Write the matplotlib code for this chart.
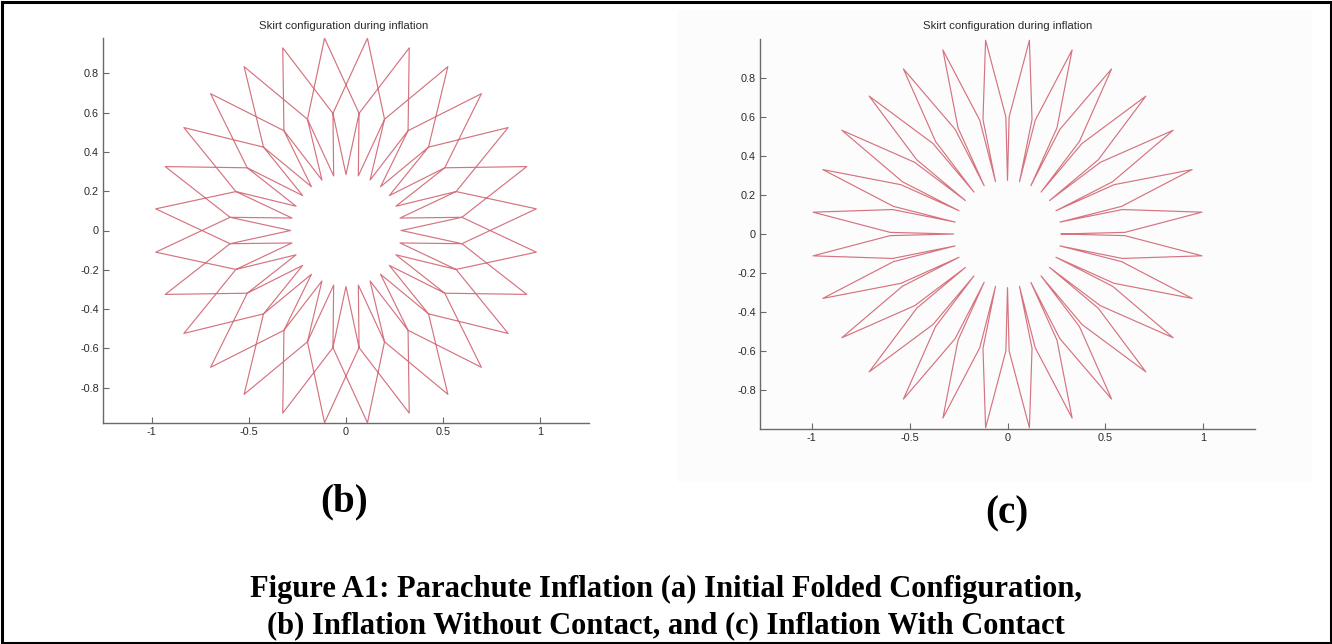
import numpy as np
import matplotlib
matplotlib.use("Agg")
import matplotlib.pyplot as plt
from matplotlib.patches import Rectangle

W, H = 1332, 644

# skirt made of 28 gores; each gore = inner point, mid fold, hem tip, mid fold
n_gores = 28
gore_step = 360.0 / n_gores

# (b) inflation without contact: folds cross over to the neighbouring gore
b_node_r = [0.285, 0.60, 0.985, 0.60]
b_node_dang = [0.0, -6.43, 6.43, 19.29]

# (c) inflation with contact: folds stay next to their own inner point
c_node_r = [0.275, 0.60, 1.0, 0.60]
c_node_dang = [0.0, 0.8, 6.43, 12.06]

xticks = [-1, -0.5, 0, 0.5, 1]
xtick_labels = ["-1", "-0.5", "0", "0.5", "1"]
yticks = [-0.8, -0.6, -0.4, -0.2, 0, 0.2, 0.4, 0.6, 0.8]
ytick_labels = ["-0.8", "-0.6", "-0.4", "-0.2", "0", "0.2", "0.4", "0.6", "0.8"]

title = "Skirt configuration during inflation"
caption_1 = "Figure A1: Parachute Inflation (a) Initial Folded Configuration,"
caption_2 = "(b) Inflation Without Contact, and (c) Inflation With Contact"

line_col = "#d5737f"


def skirt(node_r, node_dang):
    xs, ys = [], []
    for k in range(n_gores):
        for r, d in zip(node_r, node_dang):
            t = np.deg2rad(k * gore_step + d)
            xs.append(r * np.cos(t))
            ys.append(r * np.sin(t))
    xs.append(xs[0])
    ys.append(ys[0])
    return xs, ys


def px_axes(fig, left, top, right, bottom):
    return fig.add_axes([left / W, 1 - bottom / H, (right - left) / W, (bottom - top) / H])


def style(ax, xlim, ylim):
    ax.set_xlim(*xlim)
    ax.set_ylim(*ylim)
    ax.spines["top"].set_visible(False)
    ax.spines["right"].set_visible(False)
    for s in ("left", "bottom"):
        ax.spines[s].set_color("#6a6a6a")
        ax.spines[s].set_linewidth(1.0)
    ax.set_xticks(xticks, xtick_labels)
    ax.set_yticks(yticks, ytick_labels)
    ax.tick_params(direction="in", length=4, width=0.8, color="#6a6a6a",
                   labelsize=7.8, labelcolor="#2a2a2a", pad=3)
    for lab in ax.get_xticklabels() + ax.get_yticklabels():
        lab.set_fontfamily("Liberation Sans")
    ax.patch.set_alpha(0)


fig = plt.figure(figsize=(W / 100, H / 100), dpi=100)

# faint backdrop of the pasted (c) screenshot
fig.add_artist(Rectangle((677 / W, 1 - 482 / H), (1312 - 677) / W, (482 - 10) / H,
                         transform=fig.transFigure, facecolor="#fcfcfc", edgecolor="none", zorder=0))

ax1 = px_axes(fig, 103, 38, 589, 423)
bx, by = skirt(b_node_r, b_node_dang)
ax1.plot(bx, by, color=line_col, lw=0.85)
style(ax1, (-1.25, 1.25), (-0.98, 0.98))

ax2 = px_axes(fig, 760, 39, 1255, 429)
cx, cy = skirt(c_node_r, c_node_dang)
ax2.plot(cx, cy, color=line_col, lw=0.85)
style(ax2, (-1.265, 1.265), (-1.0, 1.0))

for x in (344, 1008):
    fig.text(x / W, 1 - 26 / H, title, ha="center", va="center",
             fontsize=8.2, family="Liberation Sans", color="#2a2a2a")

fig.text(344 / W, 1 - 502 / H, "(b)", ha="center", va="center",
         fontsize=28, family="Liberation Serif", weight="bold")
fig.text(1007 / W, 1 - 514 / H, "(c)", ha="center", va="center",
         fontsize=28, family="Liberation Serif", weight="bold")

fig.text(666 / W, 1 - 597 / H, caption_1, ha="center", va="baseline",
         fontsize=22, family="Liberation Serif", weight="bold")
fig.text(666 / W, 1 - 633 / H, caption_2, ha="center", va="baseline",
         fontsize=22, family="Liberation Serif", weight="bold")

# page border
fig.add_artist(Rectangle((1.5 / W, 1.5 / H), (W - 3) / W, (H - 3) / H,
                         transform=fig.transFigure, fill=False, edgecolor="black", linewidth=2.2))

fig.savefig("out.png", dpi=100)
